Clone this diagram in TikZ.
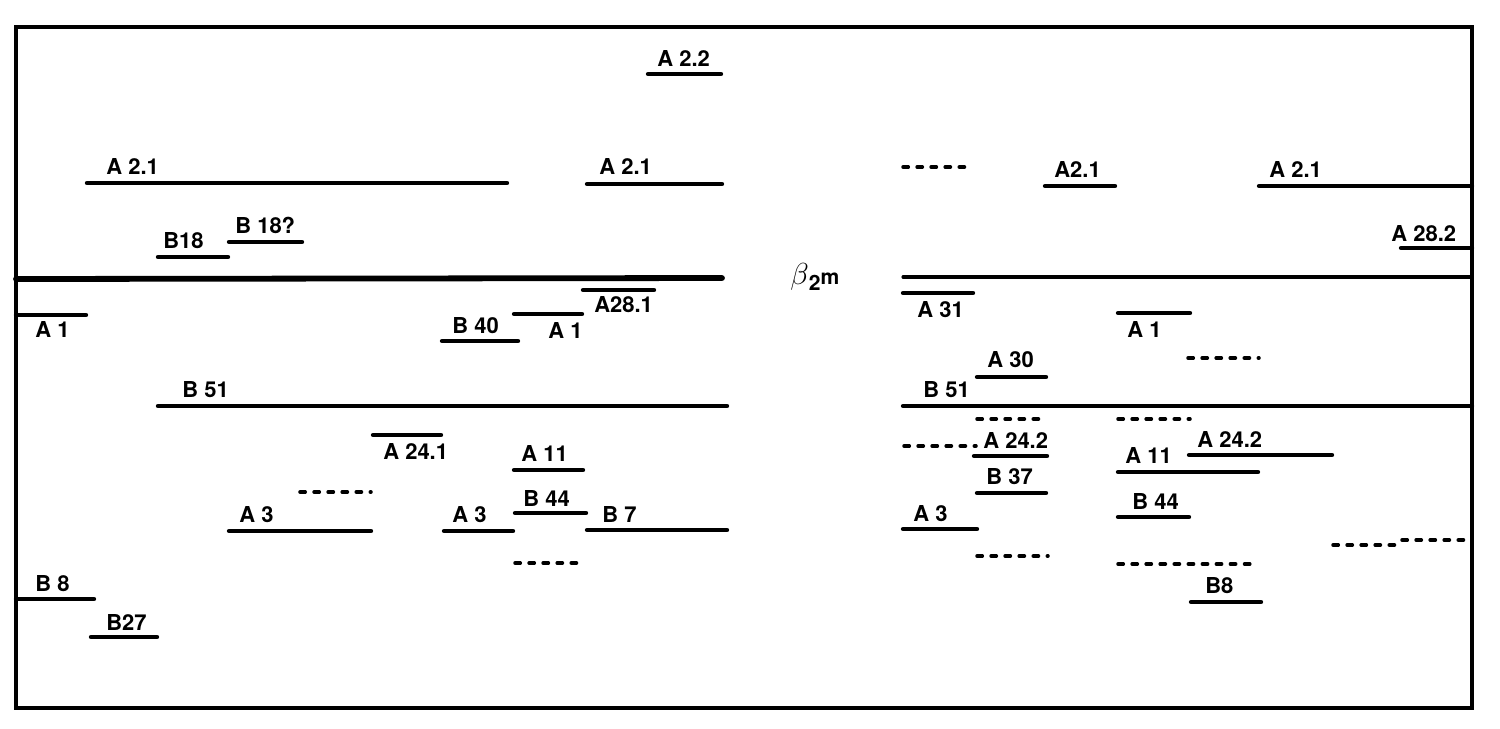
\documentclass[tikz,border=0pt]{standalone}
\usepackage{fontspec}
\setsansfont{TeX Gyre Heros}
\usetikzlibrary{arrows.meta}

\begin{document}
\begin{tikzpicture}[
    x=0.02cm, y=-0.02cm,
    frame/.style={draw, line width=1.9pt},
    bar/.style={line width=2.5pt, line cap=round},
    gap/.style={line width=2pt, line cap=round, dash pattern=on 3pt off 5pt},
    lbl/.style={anchor=base west, inner sep=0pt, font=\sffamily\bfseries\fontsize{12.5}{13}\selectfont}
]
\useasboundingbox (0,0) rectangle (1500,728);
\draw[frame] (16,27) rectangle (1472,708);

\draw[bar] (648,74) -- (721,74);
\node[lbl] (a22) at (657,66) {A 2.2};
\draw[bar] (87,183) -- (507,183);
\node[lbl] (a21l) at (106,174) {A 2.1};
\draw[bar] (587,184) -- (722,184);
\node[lbl] (a21m) at (599,174) {A 2.1};
\draw[bar] (158,257) -- (228,257);
\node[lbl] (b18) at (163,248) {B18};
\draw[bar] (229,242) -- (302,242);
\node[lbl] (b18q) at (235,233) {B 18?};
\draw[bar, line width=3.3pt] (16,279) -- (722,278);
\node[lbl, font=\sffamily\bfseries\fontsize{12}{12}\selectfont] (beta) at (790,284) {{\fontsize{17}{17}\selectfont$\beta$}\raisebox{-0.55ex}{2}m};
\draw[bar] (16,315) -- (86,315);
\node[lbl] (a1l) at (35,337) {A 1};
\draw[bar] (583,290) -- (654,290);
\node[lbl] (a281) at (594,312) {A28.1};
\draw[bar] (514,314) -- (582,314);
\node[lbl] (a1m) at (548,338) {A 1};
\draw[bar] (442,341) -- (518,341);
\node[lbl] (b40) at (452,333) {B 40};
\draw[bar] (158,406) -- (727,406);
\node[lbl] (b51l) at (182,397) {B 51};
\draw[bar] (373,435) -- (441,435);
\node[lbl] (a241) at (383,459) {A 24.1};
\draw[bar] (514,470) -- (583,470);
\node[lbl] (a11l) at (521,461) {A 11};
\draw[gap] (300,492) -- (371,492);
\draw[bar] (229,531) -- (371,531);
\node[lbl] (a3l) at (239,522) {A 3};
\draw[bar] (444,531) -- (513,531);
\node[lbl] (a3m) at (452,522) {A 3};
\draw[bar] (515,513) -- (586,513);
\node[lbl] (b44l) at (523,506) {B 44};
\draw[bar] (587,530) -- (727,530);
\node[lbl] (b7) at (602,522) {B 7};
\draw[gap] (515,563) -- (584,563);
\draw[bar] (16,599) -- (94,599);
\node[lbl] (b8l) at (35,591) {B 8};
\draw[bar] (91,637) -- (157,637);
\node[lbl] (b27) at (106,630) {B27};

\draw[gap] (903,167) -- (968,167);
\draw[bar] (1045,186) -- (1115,186);
\node[lbl] (a21r) at (1054,177) {A2.1};
\draw[bar] (1259,186) -- (1472,186);
\node[lbl] (a21rr) at (1269,177) {A 2.1};
\draw[bar] (1401,248) -- (1472,248);
\node[lbl] (a282) at (1391,241) {A 28.2};
\draw[bar, line width=1.8pt] (903,277) -- (1472,277);
\draw[bar] (903,293) -- (973,293);
\node[lbl] (a31) at (917,317) {A 31};
\draw[bar] (1118,313) -- (1190,313);
\node[lbl] (a1r) at (1127,337) {A 1};
\draw[gap] (1188,358) -- (1259,358);
\draw[bar] (977,377) -- (1046,377);
\node[lbl] (a30) at (987,367) {A 30};
\draw[bar] (903,406) -- (1472,406);
\node[lbl] (b51r) at (923,397) {B 51};
\draw[gap] (977,419) -- (1047,419);
\draw[gap] (1118,419) -- (1190,419);
\draw[gap] (904,446) -- (976,446);
\draw[bar] (974,456) -- (1047,456);
\node[lbl] (a242) at (983,448) {A 24.2};
\draw[bar] (1189,455) -- (1332,455);
\node[lbl] (a242r) at (1197,447) {A 24.2};
\draw[bar] (1118,472) -- (1258,472);
\node[lbl] (a11r) at (1125,463) {A 11};
\draw[bar] (977,493) -- (1046,493);
\node[lbl] (b37) at (986,484) {B 37};
\draw[bar] (1118,517) -- (1189,517);
\node[lbl] (b44r) at (1132,509) {B 44};
\draw[bar] (903,529) -- (977,529);
\node[lbl] (a3r) at (913,521) {A 3};
\draw[gap] (977,556) -- (1048,556);
\draw[gap] (1118,564) -- (1257,564);
\draw[gap] (1333,545) -- (1402,545);
\draw[gap] (1402,540) -- (1472,540);
\draw[bar] (1191,602) -- (1261,602);
\node[lbl] (b8r) at (1205,593) {B8};
\end{tikzpicture}
\end{document}
